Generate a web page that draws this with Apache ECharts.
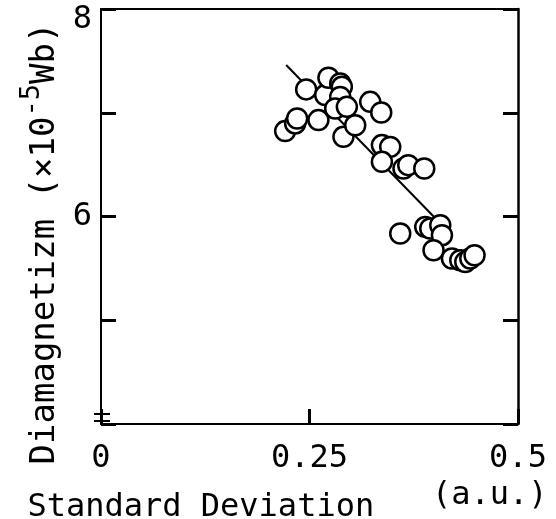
<!DOCTYPE html>
<html>
<head>
<meta charset="utf-8">
<script src="https://cdn.jsdelivr.net/npm/echarts@6/dist/echarts.min.js"></script>
<style>html,body{margin:0;padding:0;background:#fff;}#c{width:556px;height:519px;}</style>
</head>
<body>
<div id="c"></div>
<script>
// Standard deviation (a.u.)
const sdValues = [0.2208,0.2328,0.2352,0.2460,0.2607,0.2688,0.2727,0.2868,0.2888,0.2868,0.2808,0.2948,0.2907,0.3048,0.3228,0.3360,0.3368,0.3468,0.3368,0.3627,0.3684,0.3876,0.3588,0.3888,0.3948,0.4068,0.4088,0.3987,0.4208,0.4308,0.4368,0.4428,0.4479];
// Diamagnetizm (x10^-5 Wb)
const diamValues = [6.823,6.897,6.945,7.225,6.929,7.17,7.337,7.283,7.250,7.153,7.041,7.057,6.768,6.880,7.105,7.003,6.688,6.671,6.527,6.463,6.495,6.463,5.836,5.900,5.884,5.916,5.820,5.675,5.595,5.579,5.562,5.595,5.627];
// fit line end points
const fitX = [0.222, 0.400];
const fitY = [7.46, 5.99];
// tick labels
const xTickLabels = {0: '0', 0.25: '0.25', 0.5: '0.5'};
const yTickLabels = {6: '6', 8: '8'};

const FONT = '"DejaVu Sans Mono", "Liberation Mono", monospace';
const FS = 32;

const scatterData = sdValues.map((x, i) => [x, diamValues[i]]);
const lineData = fitX.map((x, i) => [x, fitY[i]]);

const chart = echarts.init(document.getElementById('c'), null, {renderer: 'canvas'});
const axisLine = {show: true, onZero: false, lineStyle: {color: '#000', width: 2}};
chart.setOption({
  animation: false,
  backgroundColor: '#fff',
  grid: {left: 101, right: 38, top: 9, bottom: 95, containLabel: false, outerBoundsMode: 'none'},
  xAxis: [{
    type: 'value', min: 0, max: 0.5, interval: 0.25, position: 'bottom',
    axisLine: axisLine,
    axisTick: {show: true, inside: true, length: 15, lineStyle: {color: '#000', width: 3}},
    splitLine: {show: false},
    axisLabel: {
      margin: 19, color: '#000', fontFamily: FONT, fontSize: FS,
      formatter: v => xTickLabels[v] !== undefined ? xTickLabels[v] : ''
    },
    name: '{a|Standard Deviation   }{b|(a.u.)}',
    nameLocation: 'middle', nameGap: 44,
    nameTextStyle: {
      padding: [0, 44, 0, 0],
      rich: {
        a: {fontFamily: FONT, fontSize: FS, color: '#000', verticalAlign: 'bottom'},
        b: {fontFamily: FONT, fontSize: FS, color: '#000', verticalAlign: 'bottom', padding: [0, 0, 12, 0]}
      }
    }
  }, {
    type: 'value', min: 0, max: 0.5, interval: 0.25, position: 'top',
    axisLine: axisLine, axisTick: {show: false}, axisLabel: {show: false}, splitLine: {show: false}
  }],
  yAxis: [{
    type: 'value', min: 4, max: 8, interval: 1, position: 'left',
    axisLine: axisLine,
    axisTick: {show: true, inside: true, length: 15, lineStyle: {color: '#000', width: 3}},
    splitLine: {show: false},
    axisLabel: {
      margin: 9, color: '#000', fontFamily: FONT, fontSize: FS,
      formatter: v => v === 8 ? '{t|8}' : (yTickLabels[v] !== undefined ? yTickLabels[v] : ''),
      rich: {t: {fontFamily: FONT, fontSize: FS, color: '#000', padding: [22, 0, 0, 0]}}
    },
    name: '{n|Diamagnetizm (×10}{s|-5}{n|Wb)}',
    nameLocation: 'middle', nameRotate: 90, nameGap: 39,
    nameTextStyle: {
      padding: [0, 54, 0, 0],
      rich: {
        n: {fontFamily: FONT, fontSize: 34, color: '#000', verticalAlign: 'bottom'},
        s: {fontFamily: FONT, fontSize: 27, color: '#000', verticalAlign: 'bottom', padding: [0, 0, 16, 0]}
      }
    }
  }, {
    type: 'value', min: 4, max: 8, interval: 1, position: 'right',
    axisLine: {show: true, onZero: false, lineStyle: {color: '#000', width: 2.5}},
    axisTick: {show: true, inside: true, length: 15, lineStyle: {color: '#000', width: 3}},
    axisLabel: {show: false}, splitLine: {show: false}
  }],
  series: [{
    type: 'line', data: lineData, symbol: 'none', silent: true, z: 1,
    lineStyle: {color: '#000', width: 2}
  }, {
    type: 'scatter', data: scatterData, symbol: 'circle', symbolSize: 20, z: 2,
    itemStyle: {color: '#fff', borderColor: '#000', borderWidth: 2.5, opacity: 1}
  }]
});

// axis break marks near the bottom of the y axis
const corner = chart.convertToPixel({xAxisIndex: 0, yAxisIndex: 0}, [0, 4]);
chart.setOption({
  graphic: [
    {type: 'line', shape: {x1: corner[0] - 7, y1: corner[1] - 10, x2: corner[0] + 9, y2: corner[1] - 10}, style: {stroke: '#000', lineWidth: 2}},
    {type: 'line', shape: {x1: corner[0] - 7, y1: corner[1] - 3, x2: corner[0] + 9, y2: corner[1] - 3}, style: {stroke: '#000', lineWidth: 2}}
  ]
});
</script>
</body>
</html>
